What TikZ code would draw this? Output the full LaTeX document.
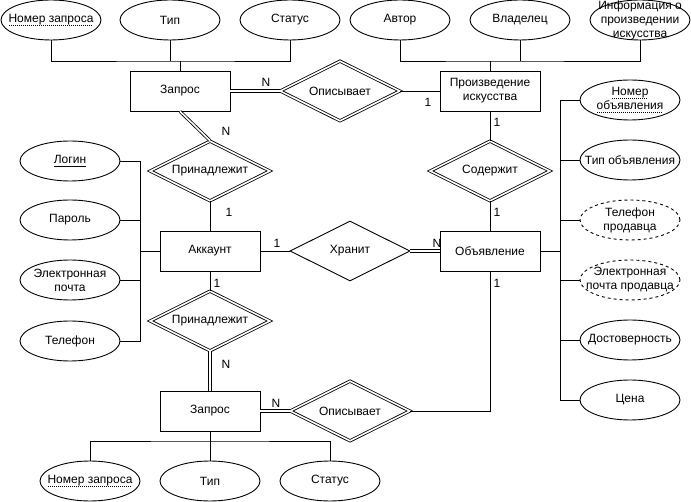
\documentclass[tikz,border=0pt]{standalone}
\usepackage{fontspec}
\setmainfont{Liberation Sans}
\usetikzlibrary{shapes.geometric}
\newcommand\mydotul[1]{\leavevmode\setbox0=\hbox{#1}\rlap{\copy0}\raisebox{-2.5pt}{\hbox to \wd0{\leaders\hbox to 2pt{\hss\rule{1pt}{0.7pt}\hss}\hfill}}}
\newcommand\mysolidul[1]{\leavevmode\setbox0=\hbox{#1}\rlap{\copy0}\raisebox{-2.5pt}{\rule{\wd0}{0.7pt}}}
\begin{document}
\begin{tikzpicture}[x=1pt,y=-1pt,line width=0.9pt,
  every node/.style={font=\fontsize{12}{14}\selectfont},
  attr/.style={ellipse, draw, minimum width=100pt, minimum height=40pt, inner sep=0pt},
  ent/.style={rectangle, draw, minimum width=100pt, minimum height=40pt, align=center, inner sep=0pt},
  rel/.style={diamond, draw, aspect=2, minimum width=120pt, minimum height=60pt, inner sep=0pt},
  wrel/.style={rel, double, double distance=1.6pt, line width=0.8pt},
  dbl/.style={double, double distance=1.6pt, line width=0.8pt},
  card/.style={inner sep=0pt},
  ctext/.style={align=center}]
\useasboundingbox (0,0) rectangle (691,502);
% top attributes
\node[attr, label={center:\mydotul{Номер запроса}}] (a1) at (51,20) {};
\node[attr, label={center:Тип}] (a2) at (170,20) {};
\node[attr, label={center:Статус}] (a3) at (290,20) {};
\node[attr, label={center:Автор}] (b1) at (400,20) {};
\node[attr, label={center:Владелец}] (b2) at (520,20) {};
\node[attr] (b3) at (640,20) {};
\node[ctext] (b3t) at (640,20) {Информация о\\произведении\\искусства};
% entities
\node[ent] (zap1) at (180,91) {Запрос};
\node[ent] (art) at (490,91) {Произведение\\искусства};
\node[ent] (acc) at (210,251) {Аккаунт};
\node[ent] (obj) at (490,251) {Объявление};
\node[ent] (zap2) at (210,411) {Запрос};
% relations
\node[wrel] (op1) at (340,91) {Описывает};
\node[wrel] (pr1) at (210,171) {Принадлежит};
\node[wrel] (sod) at (490,171) {Содержит};
\node[rel] (hr) at (350,251) {Хранит};
\node[wrel] (pr2) at (210,321) {Принадлежит};
\node[wrel] (op2) at (350,411) {Описывает};
% left attributes
\node[attr, label={center:\mysolidul{Логин}}] (l1) at (70,161) {};
\node[attr, label={center:Пароль}] (l2) at (70,220) {};
\node[attr, label={[ctext]center:Электронная\\почта}] (l3) at (70,280) {};
\node[attr, label={center:Телефон}] (l4) at (70,341) {};
% right attributes
\node[attr, label={[ctext]center:\mydotul{Номер}\\\mydotul{объявления}}] (r1) at (630,100) {};
\node[attr, label={center:Тип объявления}] (r2) at (630,160) {};
\node[attr, dashed, label={[ctext]center:Телефон\\продавца}] (r3) at (630,220) {};
\node[attr, dashed, label={[ctext]center:Электронная\\почта продавца}] (r4) at (630,280) {};
\node[attr, label={center:Достоверность}] (r5) at (630,340) {};
\node[attr, label={center:Цена}] (r6) at (630,400) {};
% bottom attributes
\node[attr, label={center:\mydotul{Номер запроса}}] (c1) at (90,481) {};
\node[attr, label={center:Тип}] (c2) at (210,481) {};
\node[attr, label={center:Статус}] (c3) at (330,481) {};
% buses
\coordinate (bus1) at (180,61);
\coordinate (bus2) at (490,61);
\coordinate (lbus) at (140,251);
\coordinate (rbus) at (560,251);
\coordinate (bus3) at (210,441);
\draw (a1.south) |- (bus1) -| (a3.south);
\draw (a2.south) -- (a2.south |- bus1);
\draw (bus1) -- (zap1.north);
\draw (b1.south) |- (bus2) -| (b3.south);
\draw (b2.south) -- (b2.south |- bus2);
\draw (bus2) -- (art.north);
\draw (l1.east) -| (lbus);
\draw (l4.east) -| (lbus);
\draw (l2.east) -- (l2.east -| lbus);
\draw (l3.east) -- (l3.east -| lbus);
\draw (lbus) -- (acc.west);
\draw (r1.west) -| (rbus);
\draw (r6.west) -| (rbus);
\draw (r2.west) -- (r2.west -| rbus);
\draw (r3.west) -- (r3.west -| rbus);
\draw (r4.west) -- (r4.west -| rbus);
\draw (r5.west) -- (r5.west -| rbus);
\draw (rbus) -- (obj.east);
\draw (c1.north) |- (bus3) -| (c3.north);
\draw (c2.north) -- (bus3);
\draw (bus3) -- (zap2.south);
% relation connectors
\draw[dbl] (zap1.east) -- (op1.west);
\draw (op1.east) -- (art.west);
\draw[dbl] (zap1.south) -- (pr1.north);
\draw (pr1.south) -- (acc.north);
\draw (art.south) -- (sod.north);
\draw (sod.south) -- (obj.north);
\draw (acc.east) -- (hr.west);
\draw[dbl] (hr.east) -- (obj.west);
\draw (acc.south) -- (pr2.north);
\draw[dbl] (pr2.south) -- (zap2.north);
\draw[dbl] (zap2.east) -- (op2.west);
\draw (op2.east) -| (obj.south);
% cardinalities
\node[card] (k1) at (266,82) {N};
\node[card] (k2) at (428,102) {1};
\node[card] (k3) at (226,131) {N};
\node[card] (k4) at (229,212) {1};
\node[card] (k5) at (277,243) {1};
\node[card] (k6) at (437,243) {N};
\node[card] (k7) at (497,122) {1};
\node[card] (k8) at (497,212) {1};
\node[card] (k9) at (217,283) {1};
\node[card] (k10) at (226,364) {N};
\node[card] (k11) at (276,403) {N};
\node[card] (k12) at (497,283) {1};
\end{tikzpicture}
\end{document}
